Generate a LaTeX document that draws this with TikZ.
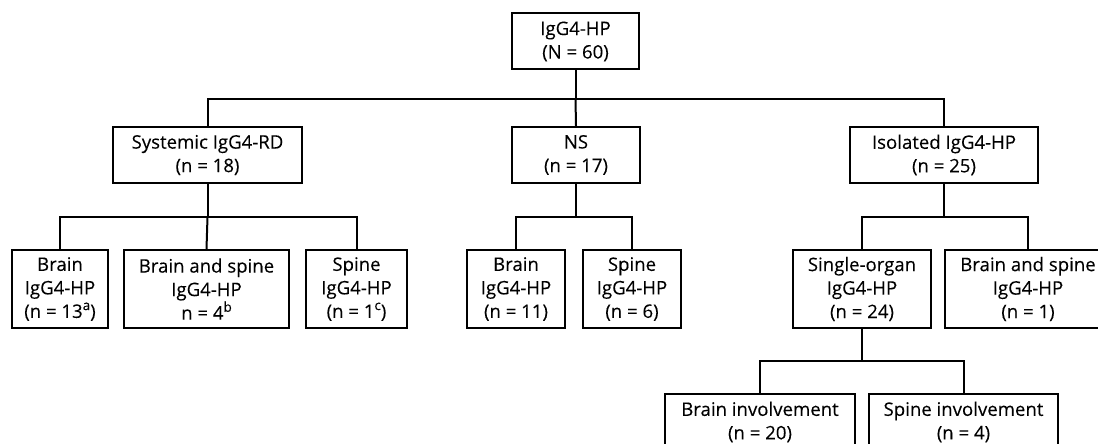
\documentclass[tikz,border=0pt]{standalone}
\usepackage{fontspec}
\setmainfont{Open Sans}[FakeBold=0.12]
\newcommand{\supmark}[1]{\raisebox{0.42em}{\fontsize{13.5}{13.5}\selectfont #1}}
\begin{document}
\begin{tikzpicture}[x=1pt,y=-1pt,
  box/.style={draw=black,line width=2pt,align=center,inner sep=0pt,
    font=\fontsize{18.6}{23.5}\selectfont,text=black},
  two/.style={box,minimum height=56pt},
  three/.style={box,minimum height=78pt},
  conn/.style={draw=black,line width=2pt}]
\useasboundingbox (0,0) rectangle (1098,444);
% level 0
\node[two,minimum width=127pt] (top) at (575.5,41.5) {IgG4-HP\\(N = 60)};
% level 1
\node[two,minimum width=189pt] (sys) at (207.5,155) {Systemic IgG4-RD\\(n = 18)};
\node[two,minimum width=128pt] (ns) at (576,155) {NS\\(n = 17)};
\node[two,minimum width=188pt] (iso) at (944,155) {Isolated IgG4-HP\\(n = 25)};
% level 2
\node[three,minimum width=96pt] (b1) at (60,289) {Brain\\IgG4-HP\\(n = 13\supmark{a})};
\node[three,minimum width=165pt] (bs1) at (206.5,289) {Brain and spine\\IgG4-HP\\n = 4\supmark{b}};
\node[three,minimum width=101pt] (s1) at (356.5,289) {Spine\\IgG4-HP\\(n = 1\supmark{c})};
\node[three,minimum width=98pt] (b2) at (516,289) {Brain\\IgG4-HP\\(n = 11)};
\node[three,minimum width=98pt] (s2) at (632,289) {Spine\\IgG4-HP\\(n = 6)};
\node[three,minimum width=138pt] (so) at (862,289) {Single-organ\\IgG4-HP\\(n = 24)};
\node[three,minimum width=166pt] (bs2) at (1028,289) {Brain and spine\\IgG4-HP\\(n = 1)};
% level 3
\node[two,minimum width=190pt] (bi) at (760,422) {Brain involvement\\(n = 20)};
\node[two,minimum width=189pt] (si) at (963.5,422) {Spine involvement\\(n = 4)};
% bus coordinates
\coordinate (j0) at (575.5,99);
\coordinate (j1) at (207.5,217);
\coordinate (j2) at (576,217);
\coordinate (j3) at (944,217);
\coordinate (j4) at (862,361);
% connectors
\draw[conn] (top.south) -- (j0);
\draw[conn] (j0) -| (sys.north);
\draw[conn] (j0) -| (iso.north);
\draw[conn] (j0) -- (ns.north);
\draw[conn] (sys.south) -- (j1);
\draw[conn] (j1) -| (b1.north);
\draw[conn] (j1) -| (s1.north);
\draw[conn] (j1) -- (bs1.north);
\draw[conn] (ns.south) -- (j2);
\draw[conn] (j2) -| (b2.north);
\draw[conn] (j2) -| (s2.north);
\draw[conn] (iso.south) -- (j3);
\draw[conn] (j3) -| (so.north);
\draw[conn] (j3) -| (bs2.north);
\draw[conn] (so.south) -- (j4);
\draw[conn] (j4) -| (bi.north);
\draw[conn] (j4) -| (si.north);
\end{tikzpicture}
\end{document}
